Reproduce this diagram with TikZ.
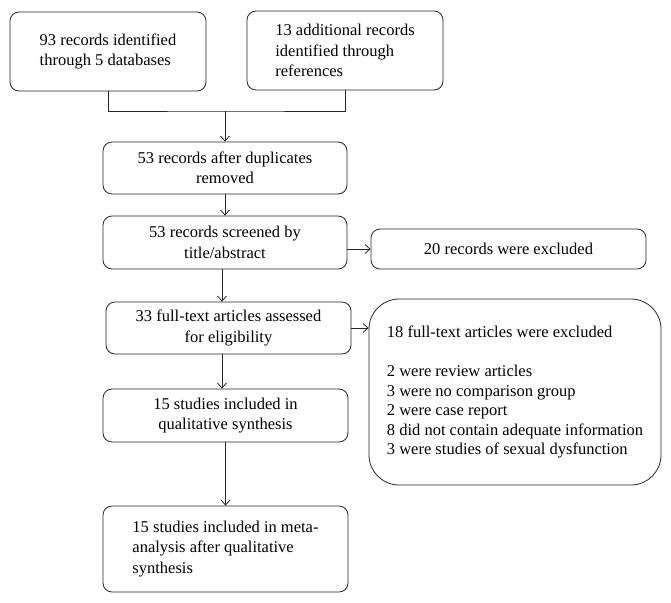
\documentclass[tikz,border=0pt]{standalone}
\usepackage{fontspec}
\setmainfont{Liberation Serif}
\usetikzlibrary{arrows.meta}
\begin{document}
\begin{tikzpicture}[x=1pt,y=-1pt,
    stage/.style ={rectangle, draw=black!85, rounded corners=9pt, line width=0.8pt, inner sep=0pt, align=center, font=\fontsize{16.5}{20.5}\selectfont},
    flow/.style ={draw=black!85, line width=0.8pt, -{Straight Barb[length=5pt,width=9pt]}}]
   \useasboundingbox (0,0) rectangle (671,602);
   \node[stage, align=left, minimum width=196pt, minimum height=79pt] (db)  at (108,51.5)  {93 records identified\\through 5 databases};
   \node[stage, align=left, minimum width=196pt, minimum height=79pt] (refs)  at (345,50.5)  {13 additional records\\identified through\\references};
   \node[stage, minimum width=244pt, minimum height=52pt] (dup)  at (225,168)  {53 records after duplicates\\removed};
   \node[stage, minimum width=244pt, minimum height=53pt] (screen)  at (225,242.5)  {53 records screened by\\title/abstract};
   \node[stage, minimum width=275pt, minimum height=40pt] (excl)  at (508.5,249)  {20 records were excluded};
   \node[stage, minimum width=245pt, minimum height=52pt] (full)  at (228.5,328)  {33 full-text articles assessed\\for eligibility};
   \node[stage, align=left, rounded corners=30pt, minimum width=292pt, minimum height=186pt, font=\fontsize{16.5}{19.5}\selectfont] (fullexcl)  at (515,392)  {18 full-text articles were excluded\\[19.5pt]2 were review articles\\3 were no comparison group\\2 were case report\\8 did not contain adequate information\\3 were studies of sexual dysfunction};
   \node[stage, minimum width=245pt, minimum height=53pt] (qual)  at (225.5,415.5)  {15 studies included in\\qualitative synthesis};
   \node[stage, align=left, minimum width=245pt, minimum height=86pt] (meta)  at (225.5,549)  {15 studies included in meta-\\analysis after qualitative\\synthesis};
   \coordinate (join) at (225,111);
   \draw[draw=black!85, line width=0.8pt] (db.south) |- (join) -| (refs.south);
   \draw[flow] (join) to (dup);
   \draw[flow] (dup) to (screen);
   \draw[flow] (screen.east |- excl.west) to (excl.west);
   \draw[flow] (screen.south -| 222,0) to (full.north -| 222,0);
   \draw[flow] (full.east) to (fullexcl.west |- full.east);
   \draw[flow] (full.south -| 222,0) to (qual.north -| 222,0);
   \draw[flow] (qual) to (meta);
 \end{tikzpicture}
\end{document}
